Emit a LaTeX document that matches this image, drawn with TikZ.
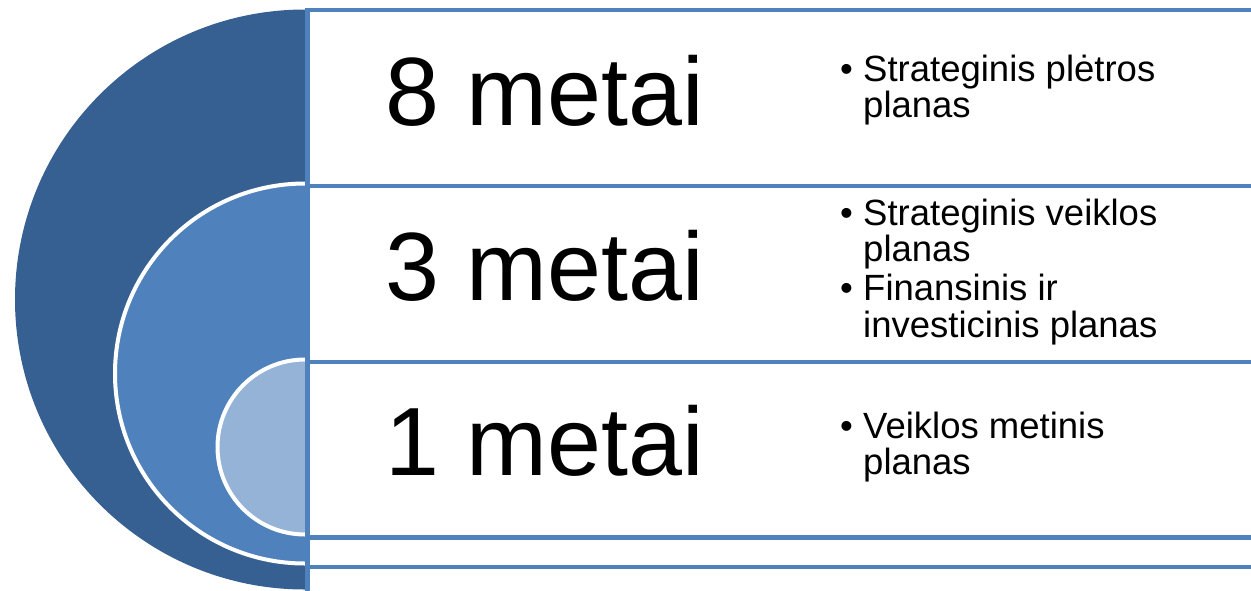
\documentclass[tikz,border=0pt]{standalone}
\usepackage{fontspec}
\setmainfont{Liberation Sans}
\definecolor{darkblue}{HTML}{376092}
\definecolor{midblue}{HTML}{4F81BD}
\definecolor{lightblue}{HTML}{95B3D7}
\definecolor{linecol}{HTML}{4F81BD}
\begin{document}
\begin{tikzpicture}[x=1pt,y=-1pt,
  rowbox/.style={draw=linecol, line width=4.5pt, fill=white, anchor=north west, inner sep=0pt, minimum width=960pt},
  bigtext/.style={font=\fontsize{97}{97}\selectfont, inner sep=0pt, anchor=base},
  itemtext/.style={font=\fontsize{36.5}{36}\selectfont, inner sep=0pt, anchor=base west},
  bulletdot/.style={font=\fontsize{36.5}{36}\selectfont, inner sep=0pt, anchor=base west}]
\useasboundingbox (0,0) rectangle (1251,590);
% nested half discs
\begin{scope}
  \clip (0,0) rectangle (305,590);
  \fill[darkblue] (305,299.5) circle[radius=290pt];
  \filldraw[fill=midblue, draw=white, line width=4pt] (305,373.5) circle[radius=190pt];
  \filldraw[fill=lightblue, draw=white, line width=4pt] (305,447) circle[radius=87.5pt];
\end{scope}
% row boxes
\node[rowbox, minimum height=600pt] (r1) at (305,7.5) {};
\node[rowbox, minimum height=381pt] (r2) at (305,183.5) {};
\node[rowbox, minimum height=175.5pt] (r3) at (305,359.5) {};
% big labels
\node[bigtext] (t8) at (545,125) {8 metai};
\node[bigtext] (t3) at (545,300.5) {3 metai};
\node[bigtext] (t1) at (545,475) {1 metai};
% row 1 bullets
\node[bulletdot] (d1) at (840,81) {•};
\node[itemtext] (s1a) at (863,81) {Strateginis plėtros};
\node[itemtext] (s1b) at (863,117) {planas};
% row 2 bullets
\node[bulletdot] (d2) at (840,225) {•};
\node[itemtext] (s2a) at (863,225) {Strateginis veiklos};
\node[itemtext] (s2b) at (863,261) {planas};
\node[bulletdot] (d3) at (840,300) {•};
\node[itemtext] (s3a) at (863,300) {Finansinis ir};
\node[itemtext] (s3b) at (863,337) {investicinis planas};
% row 3 bullets
\node[bulletdot] (d4) at (840,438) {•};
\node[itemtext] (s4a) at (863,438) {Veiklos metinis};
\node[itemtext] (s4b) at (863,474) {planas};
\end{tikzpicture}
\end{document}
